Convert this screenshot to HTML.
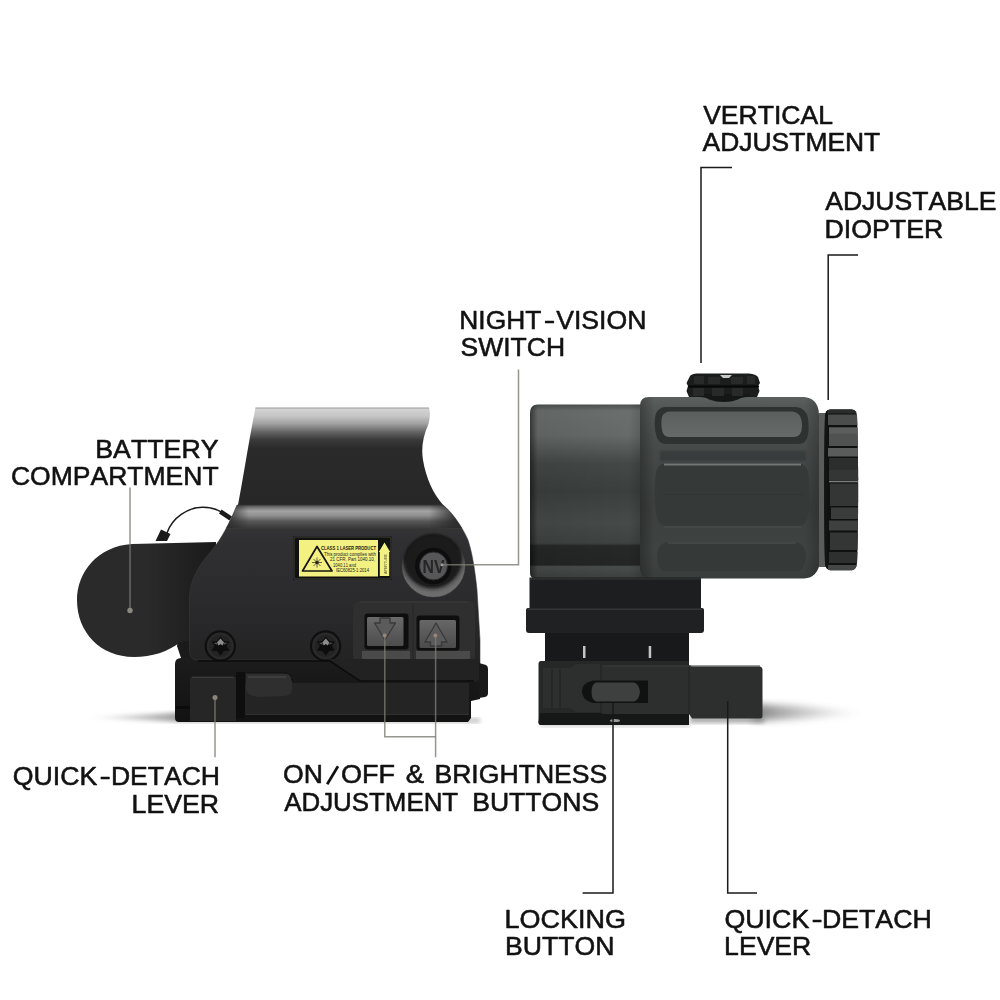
<!DOCTYPE html>
<html><head><meta charset="utf-8"><title>Sight and magnifier</title>
<style>
html,body{margin:0;padding:0;background:#fff;}
body{width:1000px;height:1000px;overflow:hidden;font-family:"Liberation Sans",sans-serif;}
svg{display:block}
svg text{font-family:"Liberation Sans",sans-serif;font-kerning:none;fill:#111;stroke:#111;stroke-width:0.55px;stroke-linejoin:round}
</style></head><body>
<svg width="1000" height="1000" viewBox="0 0 1000 1000">
<defs>
  <filter id="b1" x="-20%" y="-20%" width="140%" height="140%"><feGaussianBlur stdDeviation="1"/></filter>
  <filter id="b2" x="-20%" y="-20%" width="140%" height="140%"><feGaussianBlur stdDeviation="2"/></filter>
  <filter id="b3" x="-30%" y="-30%" width="160%" height="160%"><feGaussianBlur stdDeviation="3.5"/></filter>
  <filter id="b6" x="-30%" y="-100%" width="160%" height="300%"><feGaussianBlur stdDeviation="6"/></filter>
  <filter id="soft" x="-5%" y="-5%" width="110%" height="110%"><feGaussianBlur stdDeviation="0.6"/></filter>
  <linearGradient id="hoodG" x1="0" y1="407" x2="0" y2="506" gradientUnits="userSpaceOnUse">
    <stop offset="0" stop-color="#8e8e8e"/>
    <stop offset="0.025" stop-color="#d2d2d2"/>
    <stop offset="0.09" stop-color="#c6c6c6"/>
    <stop offset="0.17" stop-color="#a0a0a0"/>
    <stop offset="0.25" stop-color="#666666"/>
    <stop offset="0.33" stop-color="#3a3a3b"/>
    <stop offset="0.42" stop-color="#2a2a2b"/>
    <stop offset="1" stop-color="#272728"/>
  </linearGradient>
  <linearGradient id="bodyG" x1="0" y1="504" x2="0" y2="662" gradientUnits="userSpaceOnUse">
    <stop offset="0" stop-color="#303031"/>
    <stop offset="0.02" stop-color="#707070"/>
    <stop offset="0.045" stop-color="#a4a4a4"/>
    <stop offset="0.075" stop-color="#8e8e8e"/>
    <stop offset="0.11" stop-color="#565657"/>
    <stop offset="0.16" stop-color="#343435"/>
    <stop offset="0.22" stop-color="#303032"/>
    <stop offset="0.6" stop-color="#2b2b2d"/>
    <stop offset="1" stop-color="#232324"/>
  </linearGradient>
  <linearGradient id="battG" x1="80" y1="0" x2="215" y2="0" gradientUnits="userSpaceOnUse">
    <stop offset="0" stop-color="#2a2a2b"/>
    <stop offset="0.5" stop-color="#2a2a2b"/>
    <stop offset="1" stop-color="#1a1a1b"/>
  </linearGradient>
  <linearGradient id="baseG" x1="0" y1="658" x2="0" y2="722" gradientUnits="userSpaceOnUse">
    <stop offset="0" stop-color="#1c1c1d"/>
    <stop offset="1" stop-color="#121213"/>
  </linearGradient>
</defs>
<rect width="1000" height="1000" fill="#fff"/>

<!-- ================= LEFT DEVICE ================= -->
<g id="left">
  <!-- ground shadows -->
  <linearGradient id="shL" x1="84" y1="0" x2="180" y2="0" gradientUnits="userSpaceOnUse"><stop offset="0" stop-color="#888" stop-opacity="0"/><stop offset="0.35" stop-color="#888" stop-opacity="0.35"/><stop offset="1" stop-color="#777" stop-opacity="0.95"/></linearGradient>
  <path d="M84 717.500 L180 712.500 L180 722 Z" fill="url(#shL)" opacity="0.75" filter="url(#b2)"/>
  <rect x="180" y="718" width="300" height="5" fill="#999" opacity="0.55" filter="url(#b2)"/>
  <!-- lanyard -->
  <path d="M167 533 C172 518 188 507 203 507.300 C211 507.500 217 509 222 512.500" fill="none" stroke="#1a1a1a" stroke-width="1.5"/>
  <path d="M161 529.500 L170.500 534 L167 541 L155.500 541 Z" fill="#1b1b1b"/>
  <path d="M221.500 509.500 L232 516.500 L229.500 520.500 L219 513.500 Z" fill="#1b1b1b"/>
  <!-- battery compartment -->
  <path d="M216 542 L132 544 C98 546 77 572 77 600 C77 632 100 657 134 657 C152 657 168 652 181 641.500 L196 643 L216 600 Z" fill="url(#battG)"/>
  <!-- base -->
  <path d="M177 646 Q177 641 183 641 L192 641 L192 660 L181 658 Z" fill="#1a1a1b"/>
  <path d="M175 664 Q175 658 181 658 L186 657 L480 656 L480 699 L471 701 L471 718 L468 722 L179 722 Q175 722 175 718 Z" fill="url(#baseG)"/>
  <!-- hood -->
  <path d="M255.500 407.500 L429 407.500 C430.500 412 430 418 428.500 424 C423 436 421 448 423 460 C426 478 433 494 444 506 L460 530 L226 530 L238 505 C243 480 249 440 255.500 407.500 Z" fill="url(#hoodG)"/>
  <!-- body -->
  <path d="M237 505 L443 505 C452 512 463 528 468 540 C472 552 475 570 477 590 L480 640 L480 668 L352 668 L336 660 L198 660 C192 660 189.500 656 189.500 650 L189.500 598 C190 580 198 566 212 550 C222 538 230 522 237 505 Z" fill="url(#bodyG)" stroke="#3a3a3c" stroke-width="0.8" stroke-opacity="0.7"/>
  <linearGradient id="shFade" x1="226" y1="0" x2="480" y2="0" gradientUnits="userSpaceOnUse">
    <stop offset="0" stop-color="#2a2a2b" stop-opacity="0.9"/>
    <stop offset="0.09" stop-color="#2a2a2b" stop-opacity="0"/>
    <stop offset="0.8" stop-color="#2a2a2b" stop-opacity="0"/>
    <stop offset="0.9" stop-color="#2a2a2b" stop-opacity="0.85"/>
    <stop offset="1" stop-color="#2a2a2b" stop-opacity="0.9"/>
  </linearGradient>
  <clipPath id="bodyClip"><path d="M237 505 L443 505 C452 512 463 528 468 540 C472 552 475 570 477 590 L480 640 L480 668 L352 668 L336 660 L198 660 C192 660 189.500 656 189.500 650 L189.500 598 C190 580 198 566 212 550 C222 538 230 522 237 505 Z"/></clipPath>
  <rect x="185" y="504" width="300" height="24" fill="url(#shFade)" clip-path="url(#bodyClip)"/>
</g>
<g id="leftdetail" opacity="0.999">
  <!-- laser label -->
  <rect x="293" y="536" width="99" height="44" rx="1.5" fill="#121210"/>
  <rect x="294" y="537" width="97" height="42" rx="1" fill="none" stroke="#4a4a46" stroke-width="0.9"/>
  <rect x="299" y="540" width="79" height="36.500" fill="#f5f284"/>
  <path d="M379.800 576 L379.800 552 L378.800 552 L384.500 542.500 L390.200 552 L389.200 552 L389.200 576 Z" fill="#f5f284"/>
  <path d="M317 546.500 L302.500 571 L332 571 Z" fill="none" stroke="#161612" stroke-width="1.7" stroke-linejoin="round"/>
  <g stroke="#2a2a20" stroke-width="0.7">
    <path d="M312 562.500 H322 M317 557.500 V567.500 M313.500 559 L320.500 566 M313.500 566 L320.500 559"/>
  </g>
  <circle cx="317" cy="562.500" r="1.800" fill="#2a2a20"/>
  <g font-family="Liberation Sans, sans-serif" style="stroke:none">
    <text x="321" y="549.800" font-size="5.300" font-weight="bold" textLength="55" lengthAdjust="spacingAndGlyphs" style="fill:#1a1a10;stroke:none">CLASS 1 LASER PRODUCT</text>
    <text x="324" y="555.800" font-size="4.600" textLength="52" lengthAdjust="spacingAndGlyphs" style="fill:#24241a;stroke:none">This product complies with</text>
    <text x="330" y="561.300" font-size="4.600" textLength="45" lengthAdjust="spacingAndGlyphs" style="fill:#24241a;stroke:none">21 CFR, Part 1040.10,</text>
    <text x="333" y="566.500" font-size="4.600" textLength="23" lengthAdjust="spacingAndGlyphs" style="fill:#24241a;stroke:none">1040.11 and</text>
    <text x="336" y="572" font-size="4.600" textLength="33" lengthAdjust="spacingAndGlyphs" style="fill:#24241a;stroke:none">IEC60825-1:2014</text>
    <text transform="translate(386.500,574) rotate(-90)" font-size="3.600" textLength="20" lengthAdjust="spacingAndGlyphs" style="fill:#55553a;stroke:none">APERTURE</text>
  </g>
  <!-- NV switch -->
  <clipPath id="nvClip"><circle cx="433.500" cy="565.500" r="32.500"/></clipPath>
  <circle cx="433.500" cy="565.500" r="32.500" fill="#6e6e6f"/>
  <g clip-path="url(#nvClip)">
    <circle cx="432.500" cy="558" r="30.500" fill="#1c1c1d" filter="url(#b2)"/>
    <circle cx="432.500" cy="560" r="27" fill="#1b1b1c" filter="url(#b1)"/>
    <path d="M401 565 A32.500 32.500 0 0 1 466 565 L466 530 L401 530 Z" fill="#232324" opacity="0.9" filter="url(#b2)"/>
  </g>
  <circle cx="433.500" cy="565.500" r="32.300" fill="none" stroke="#2c2c2d" stroke-width="1.5" opacity="0.9"/>
  <circle cx="433.300" cy="566" r="18.300" fill="#0e0e0f"/>
  <circle cx="433.500" cy="566" r="14" fill="#58585a"/>
  <circle cx="433.500" cy="566" r="14" fill="none" stroke="#2a2a2b" stroke-width="1"/>
  <text x="422.500" y="572.500" font-size="18" font-weight="bold" textLength="22" lengthAdjust="spacingAndGlyphs" style="fill:#262627;stroke:none">NV</text>
  <!-- buttons panel -->
  <path d="M360 601 H468 Q475 601 475 608 V656 Q475 663 468 663 H360 Q353 663 353 656 V608 Q353 601 360 601 Z" fill="#303031"/>
  <path d="M360 602 H468" stroke="#444" stroke-width="1" opacity="0.6"/>
  <path d="M362 651 H410 V663 H368 Q362 663 362 657 Z" fill="#4b4b4c" filter="url(#soft)"/>
  <path d="M416 651 H470 V657 Q470 663 464 663 H416 Z" fill="#4b4b4c" filter="url(#soft)"/>
  <path d="M413 603 V662" stroke="#2a2a2b" stroke-width="1.5"/>
  <rect x="364.500" y="613.500" width="44" height="36" rx="3" fill="#0f0f10"/>
  <linearGradient id="btnG" x1="0" y1="616" x2="0" y2="648" gradientUnits="userSpaceOnUse"><stop offset="0" stop-color="#6c6c6d"/><stop offset="1" stop-color="#4c4c4d"/></linearGradient><rect x="367" y="617" width="36.500" height="29" rx="1.5" fill="url(#btnG)"/>
  <rect x="416.500" y="615.500" width="43" height="35" rx="3" fill="#0f0f10"/>
  <rect x="419.500" y="620" width="36.500" height="28" rx="1.500" fill="url(#btnG)"/>
  <path d="M380 618 H390 V623 H395.500 L385 640 L374.500 623 H380 Z" fill="#5c5c5d" stroke="#3a3a3b" stroke-width="1.3" stroke-linejoin="round"/>
  <path d="M436 623 L447 642 H441.500 V646 H430.500 V642 H425 Z" fill="#5c5c5d" stroke="#3a3a3b" stroke-width="1.3" stroke-linejoin="round"/>
  <!-- screws -->
  <g id="screw1" transform="translate(0,1)">
    <circle cx="220.300" cy="645" r="14.600" fill="#2b2b2c" stroke="#101011" stroke-width="2.200"/>
    <circle cx="220.300" cy="645" r="11" fill="#242425"/>
    <path d="M220.500 635.500 l3.500 4.500 l5.500 0.500 l-3 4.500 l3 4.500 l-5.500 0.500 l-3.500 4.500 l-3.500 -4.500 l-5.500 -0.500 l3 -4.500 l-3 -4.500 l5.500 -0.500 z" fill="#0e0e0f"/>
    <path d="M217 641.500 l3.500 -4 l3.500 4 l-1.500 3 l-2 -1.500 l-2 1.500 z" fill="#8e8e8e"/>
    <path d="M213.500 642 l3 -0.500 l1 2.500 z M227.500 642 l-3 -0.500 l-1 2.500 z" fill="#555"/>
  </g>
  <g id="screw2" transform="translate(105.3,1)">
    <circle cx="220.300" cy="645" r="14.600" fill="#2b2b2c" stroke="#101011" stroke-width="2.200"/>
    <circle cx="220.300" cy="645" r="11" fill="#242425"/>
    <path d="M220.500 635.500 l3.500 4.500 l5.500 0.500 l-3 4.500 l3 4.500 l-5.500 0.500 l-3.500 4.500 l-3.500 -4.500 l-5.500 -0.500 l3 -4.500 l-3 -4.500 l5.500 -0.500 z" fill="#0e0e0f"/>
    <path d="M217 641.500 l3.500 -4 l3.500 4 l-1.500 3 l-2 -1.500 l-2 1.500 z" fill="#8e8e8e"/>
    <path d="M213.500 642 l3 -0.500 l1 2.500 z M227.500 642 l-3 -0.500 l-1 2.500 z" fill="#555"/>
  </g>
  </g>
<g id="leftbase">
  <!-- body lower extension right -->
  <path d="M328 659 L352 659 L478 659 L480 662 L480 678 L476 682 L360 682 L336 664 Z" fill="#222223"/>
  <path d="M198 661 L330 661 L360 681 L474 681" fill="none" stroke="#0c0c0d" stroke-width="1.6"/>
  <!-- right knob -->
  <path d="M479 663 L486 665 Q488 666 488 669 L488 693 Q488 696 485 697 L479 698 Z" fill="#19191a"/>
  <!-- rail under -->
  <rect x="245" y="683" width="224" height="32" fill="#242425"/>
  <path d="M246 714.500 H469" stroke="#303031" stroke-width="1.2"/>
  <rect x="236" y="672" width="9" height="46" fill="#0e0e0f"/>
  <!-- QD knob -->
  <path d="M194 676 H232 Q236 676 236 680 V721 H190 V680 Q190 676 194 676 Z" fill="#262627"/>
  <path d="M192 677.500 H234" stroke="#3a3a3b" stroke-width="1.2"/>
  <path d="M176 706 H190 V709 H176 Z" fill="#0b0b0c"/>
  <!-- cam lever -->
  <path d="M246 673 H284 Q292 673 292 681 V689 Q292 696 284 696 L258 697 Q246 695 246 690 Z" fill="#2f2f30"/>
  <path d="M248 677 H286" stroke="#4a4a4b" stroke-width="1.5" opacity="0.8"/>
  <path d="M246 673 H284 Q292 673 292 681" fill="none" stroke="#111" stroke-width="1"/>
</g>
<!-- callout lines left -->
<g id="linesL" fill="none" stroke-linecap="butt" stroke="#7c7a72" stroke-width="1.5" stroke-opacity="0.8">
  <path d="M130 487.500 V610"/>
  <circle cx="130" cy="610.500" r="2.700" fill="#8b887f" stroke="none"/>
  <path d="M215 698 V757.300"/>
  <circle cx="215" cy="697.500" r="2.500" fill="#8b867c" stroke="none"/>
  <path d="M384.800 636 V736.800 H435.600"/>
  <path d="M435.600 636 V757.200"/>
  <circle cx="384.600" cy="635.500" r="2" fill="#9a8378" stroke="none"/>
  <circle cx="435.400" cy="635.500" r="2" fill="#9a8378" stroke="none"/>
  <path d="M443 564.800 H518.500 V369.500"/>
  <circle cx="442" cy="564.800" r="1.500" fill="#a09d98" stroke="none"/>
</g>
<!-- ================= RIGHT DEVICE ================= -->
<defs>
  <linearGradient id="tubeG" x1="0" y1="404" x2="0" y2="578" gradientUnits="userSpaceOnUse">
    <stop offset="0" stop-color="#4a4e4d"/>
    <stop offset="0.04" stop-color="#6b6f6e"/>
    <stop offset="0.18" stop-color="#666a69"/>
    <stop offset="0.34" stop-color="#444847"/>
    <stop offset="0.5" stop-color="#3b3f3e"/>
    <stop offset="0.68" stop-color="#464a49"/>
    <stop offset="0.8" stop-color="#3e4241"/>
    <stop offset="0.815" stop-color="#252827"/>
    <stop offset="0.925" stop-color="#232625"/>
    <stop offset="0.935" stop-color="#494d4c"/>
    <stop offset="1" stop-color="#3c403f"/>
  </linearGradient>
  <linearGradient id="tubeH" x1="530" y1="0" x2="640" y2="0" gradientUnits="userSpaceOnUse">
    <stop offset="0" stop-color="#000" stop-opacity="0.5"/>
    <stop offset="0.07" stop-color="#000" stop-opacity="0.08"/>
    <stop offset="0.9" stop-color="#000" stop-opacity="0"/>
    <stop offset="1" stop-color="#000" stop-opacity="0.12"/>
  </linearGradient>
  <linearGradient id="magG" x1="0" y1="397" x2="0" y2="578" gradientUnits="userSpaceOnUse">
    <stop offset="0" stop-color="#5c605f"/>
    <stop offset="0.05" stop-color="#545857"/>
    <stop offset="0.3" stop-color="#454948"/>
    <stop offset="0.6" stop-color="#3b3f3e"/>
    <stop offset="0.85" stop-color="#3f4342"/>
    <stop offset="1" stop-color="#393d3c"/>
  </linearGradient>
  <linearGradient id="magH" x1="640" y1="0" x2="823" y2="0" gradientUnits="userSpaceOnUse">
    <stop offset="0" stop-color="#000" stop-opacity="0.25"/>
    <stop offset="0.08" stop-color="#000" stop-opacity="0"/>
    <stop offset="0.9" stop-color="#000" stop-opacity="0"/>
    <stop offset="1" stop-color="#000" stop-opacity="0.25"/>
  </linearGradient>
  <linearGradient id="pan1" x1="0" y1="411" x2="0" y2="437" gradientUnits="userSpaceOnUse">
    <stop offset="0" stop-color="#5a5e5d"/>
    <stop offset="1" stop-color="#666a69"/>
  </linearGradient>
  <linearGradient id="ringG" x1="0" y1="409" x2="0" y2="571" gradientUnits="userSpaceOnUse">
    <stop offset="0" stop-color="#2a2c2c"/>
    <stop offset="0.1" stop-color="#444646"/>
    <stop offset="0.3" stop-color="#3a3c3c"/>
    <stop offset="0.5" stop-color="#2c2e2e"/>
    <stop offset="0.8" stop-color="#303232"/>
    <stop offset="1" stop-color="#1c1d1d"/>
  </linearGradient>
</defs>
<g id="right">
  <!-- shadow -->
  <linearGradient id="shR" x1="760" y1="0" x2="866" y2="0" gradientUnits="userSpaceOnUse"><stop offset="0" stop-color="#707070" stop-opacity="0.95"/><stop offset="0.4" stop-color="#888" stop-opacity="0.55"/><stop offset="1" stop-color="#999" stop-opacity="0"/></linearGradient>
  <path d="M752 704 L800 706 L866 713 L800 719 L752 721 Z" fill="url(#shR)" opacity="0.85" filter="url(#b3)"/>
  <rect x="690" y="716" width="74" height="7" fill="#888" opacity="0.7" filter="url(#b2)"/>
  <rect x="540" y="722" width="150" height="5" fill="#aaa" opacity="0.5" filter="url(#b2)"/>
  <!-- knob on top -->
  <path d="M690 376 Q692 373.500 697 373.500 H749 Q756 374 758 377 L760 383 L758 386 L759.500 391 L757 397 V400 H689 V397 L686.500 391 L688 386 L686.500 383 Z" fill="#1b1c1c"/>
  <rect x="698" y="394" width="52" height="9" fill="#151616"/>
  <path d="M688 386.500 H759" stroke="#050606" stroke-width="2"/>
  <g fill="#282a2a">
    <rect x="694" y="376" width="10" height="8" rx="1"/>
    <rect x="708" y="377" width="12" height="7" rx="1"/>
    <rect x="731" y="377" width="12" height="7" rx="1"/>
    <rect x="747" y="376" width="8" height="8" rx="1"/>
    <rect x="693" y="388" width="11" height="8" rx="1"/>
    <rect x="712" y="388" width="12" height="8" rx="1"/>
    <rect x="732" y="388" width="11" height="8" rx="1"/>
  </g>
  <path d="M720 375 H732 L729 378 H723 Z" fill="#c8c8c8"/>
  <!-- front tube -->
  <path d="M538 404.500 H652 V578 H534 Q530 578 530 572 V413 Q530 404.500 538 404.500 Z" fill="url(#tubeG)"/>
  <path d="M538 404.500 H652 V578 H534 Q530 578 530 572 V413 Q530 404.500 538 404.500 Z" fill="url(#tubeH)"/>
  <!-- main body -->
  <path d="M649 397 H700 Q706 397 709 399.500 Q716 402 724 402 Q732 402 738 399.500 Q741 397 748 397 H804 Q816 398 818.500 410 C822 440 823.500 520 820.500 560 Q818 578 804 578.500 H650 Q640 578 640 568 V406 Q640 397 649 397 Z" fill="url(#magG)"/>
  <path d="M649 397 H700 Q706 397 709 399.500 Q716 402 724 402 Q732 402 738 399.500 Q741 397 748 397 H804 Q816 398 818.500 410 C822 440 823.500 520 820.500 560 Q818 578 804 578.500 H650 Q640 578 640 568 V406 Q640 397 649 397 Z" fill="url(#magH)"/>
  <!-- top panel -->
  <path d="M666 407 H796 Q806 408 808 418 Q810 434 806 440 Q804 444 798 444 H666 Q660 444 657 438 Q653 426 655.500 415 Q658 407 666 407 Z" fill="#2e3231"/>
  <path d="M670 411.500 H792 Q800 412 801.500 420 Q803 430 800 434 Q798 437 793 437 H670 Q664 437 662.500 432 Q660.500 424 662 417 Q664 411.500 670 411.500 Z" fill="url(#pan1)"/>
  <rect x="660" y="451" width="146" height="10" fill="#2f3332" opacity="0.5" filter="url(#b1)"/>
  <!-- middle panel -->
  <path d="M666 463 H798 Q806 464 808 472 Q811 494 808 516 Q806 525 798 526 H666 Q658 525 656.500 516 Q653 494 656 472 Q658 464 666 463 Z" fill="#353938"/>
  <path d="M664 464.500 H801" stroke="#727675" stroke-width="2"/>
  <path d="M664 527 H801" stroke="#4a4e4d" stroke-width="1.5" opacity="0.8"/>
  <path d="M662 494.500 H803" stroke="#2e3231" stroke-width="1" opacity="0.6"/>
  <!-- bottom panel -->
  <path d="M668 542 H795 Q803 543 805 550 Q807 558 804 565 Q802 571 795 571 H668 Q660 571 658.500 565 Q656 558 658 550 Q660 543 668 542 Z" fill="#353938"/>
  <path d="M668 543 H796" stroke="#505453" stroke-width="1.2"/>
  <!-- diopter ring -->
  <rect x="819" y="413" width="8" height="154" fill="#585c5b"/>
  <clipPath id="ringClip"><path d="M830 409.300 H852 Q856.500 410 857 416 C858.500 450 858.500 530 857 563 Q856.500 569.500 852 570.300 H830 Q825.500 569.500 825 563 C824 530 824 450 825 416 Q825.500 410 830 409.300 Z"/></clipPath>
  <g clip-path="url(#ringClip)">
    <rect x="820" y="405" width="45" height="170" fill="#0f1010"/>
    <rect x="827" y="410" width="32" height="3.500" fill="#2a2c2c"/>
    <rect x="828" y="414.500" width="31" height="10.500" fill="#4b4d4d"/>
    <rect x="829" y="427.500" width="30" height="18.500" fill="#505252"/>
    <rect x="829" y="427.500" width="30" height="6" fill="#5c5e5e"/>
    <rect x="828" y="448" width="31" height="8.500" fill="#5a5c5c"/>
    <rect x="829" y="458" width="30" height="22" fill="#2c2e2e"/>
    <rect x="829" y="470" width="30" height="10" fill="#343636"/>
    <rect x="829" y="480.700" width="30" height="1.600" fill="#7a7c7c"/>
    <rect x="830" y="483.500" width="29" height="22.500" fill="#343636"/>
    <rect x="831" y="507.500" width="28" height="11.500" fill="#3a3c3c"/>
    <rect x="829" y="520.500" width="30" height="10" fill="#3e4040"/>
    <rect x="830" y="532.500" width="29" height="17.500" fill="#343636"/>
    <rect x="829" y="552" width="30" height="11" fill="#2e3030"/>
    <rect x="828" y="565" width="31" height="6" fill="#454747"/>
    <rect x="824" y="410" width="3.500" height="165" fill="#121313"/>
  </g>
</g>
<g id="mount">
  <!-- underside strip of magnifier -->
  <!-- upper block -->
  <rect x="529.500" y="577.500" width="171.500" height="31" fill="#1d1e1f"/>
  <path d="M530 579 H701" stroke="#2f3131" stroke-width="1.5"/>
  <!-- lower rail -->
  <path d="M528 608 H702 Q704 608 704 610 V630 Q704 633 701 633 H529 Q526 633 526 630 V610 Q526 608 528 608 Z" fill="#202122"/>
  <path d="M528 609.300 H702" stroke="#323435" stroke-width="1.4"/>
  <!-- neck -->
  <rect x="545" y="633" width="144" height="29" fill="#18191a"/>
  <rect x="583" y="646" width="2.500" height="12" fill="#c4c4c4"/>
  <rect x="648.700" y="646" width="2.500" height="12" fill="#c4c4c4"/>
  <!-- QD base -->
  <path d="M541 661 H689 V725 H541 Q538.500 725 538.500 722 V664 Q538.500 661 541 661 Z" fill="#262828"/>
  <path d="M540 713 H689 V725 H541 Q538.500 725 538.500 722 Z" fill="#161717"/>
  <path d="M543 668 H570 L576 664 H600 V712 H576 L570 708 H543 Z" fill="#2d2f2f"/>
  <path d="M552 669 V708 M560 669 V708" stroke="#232525" stroke-width="1.500"/>
  <!-- lever -->
  <path d="M602 665 H689 L692 666.500 H760 Q762.500 667 762.500 670 V716 Q762.500 718.500 760 718.500 H692 L689 714 H602 Z" fill="#2c2f2e"/>
  <path d="M689 666 V714" stroke="#222424" stroke-width="1"/>
  <path d="M603 666 H760" stroke="#3a3d3c" stroke-width="1"/>
  <!-- lock button -->
  <path d="M593 680.500 H648 V703 H593 Q582 700 582 691.500 Q582 683 593 680.500 Z" fill="#101111"/>
  <path d="M596 682.500 H634 Q639 684 640 692 Q639 700 634 701.500 H596 Q591.500 700 591.500 692 Q591.500 684 596 682.500 Z" fill="#3e4040"/>
  <ellipse cx="615" cy="720.500" rx="5" ry="1.600" fill="#9a9a9a"/>
</g>
<!-- callout lines right -->
<g id="linesR" fill="none" stroke="#1a1a1a" stroke-width="1.5">
  <path d="M732 167.500 H701 V363"/>
  <path d="M858 255 H828.200 V400"/>
  <path d="M613 702 V893 H582.600"/>
  <path d="M727.700 701 V893 H757"/>
</g>
<path d="M327.200 784.300 L338 766.300" stroke="#111" stroke-width="2.700" fill="none" id="slash"/>

<g id="labels" opacity="0.995">
<text transform="translate(703.16,124.32) scale(1.0590,1)" font-size="25.07">VERTICAL</text>
<text transform="translate(702.62,151.32) scale(1.0544,1)" font-size="25.07">ADJUSTMENT</text>
<text transform="translate(825.22,210.12) scale(1.0595,1)" font-size="25.07">ADJUSTABLE</text>
<text transform="translate(824.48,237.72) scale(1.0668,1)" font-size="25.07">DIOPTER</text>
<text transform="translate(459.31,328.73) scale(1.0219,1)" font-size="25.80">NIGHT</text>
<text transform="translate(543.74,328.73) scale(1.3804,1)" font-size="25.07">-</text>
<text transform="translate(556.16,328.73) scale(1.0330,1)" font-size="25.80">VISION</text>
<text transform="translate(460.47,356.23) scale(1.0282,1)" font-size="25.80">SWITCH</text>
<text transform="translate(95.28,457.62) scale(1.0675,1)" font-size="25.07">BATTERY</text>
<text transform="translate(10.93,485.03) scale(1.0581,1)" font-size="25.07">COMPARTMENT</text>
<text transform="translate(12.81,785.12) scale(1.0656,1)" font-size="25.07">QUICK</text>
<text transform="translate(99.47,785.12) scale(1.3478,1)" font-size="25.07">-</text>
<text transform="translate(110.90,785.12) scale(1.0593,1)" font-size="25.07">DETACH</text>
<text transform="translate(131.58,812.93) scale(1.0652,1)" font-size="25.07">LEVER</text>
<text transform="translate(283.02,783.02) scale(1.0603,1)" font-size="25.07">ON</text>
<text transform="translate(341.00,783.02) scale(1.0774,1)" font-size="25.07">OFF</text>
<text transform="translate(405.71,783.02) scale(1.0971,1)" font-size="25.07">&amp;</text>
<text transform="translate(434.39,783.02) scale(1.0617,1)" font-size="25.07">BRIGHTNESS</text>
<text transform="translate(284.22,810.52) scale(1.0323,1)" font-size="25.07">ADJUSTMENT</text>
<text transform="translate(472.19,810.52) scale(1.0606,1)" font-size="25.07">BUTTONS</text>
<text transform="translate(504.56,927.73) scale(1.0755,1)" font-size="25.07">LOCKING</text>
<text transform="translate(505.09,955.12) scale(1.0614,1)" font-size="25.07">BUTTON</text>
<text transform="translate(724.40,927.73) scale(1.0695,1)" font-size="25.07">QUICK</text>
<text transform="translate(811.49,927.73) scale(1.3314,1)" font-size="25.07">-</text>
<text transform="translate(821.88,927.73) scale(1.0674,1)" font-size="25.07">DETACH</text>
<text transform="translate(724.09,955.33) scale(1.0614,1)" font-size="25.07">LEVER</text>
</g>
</svg>
</body></html>
